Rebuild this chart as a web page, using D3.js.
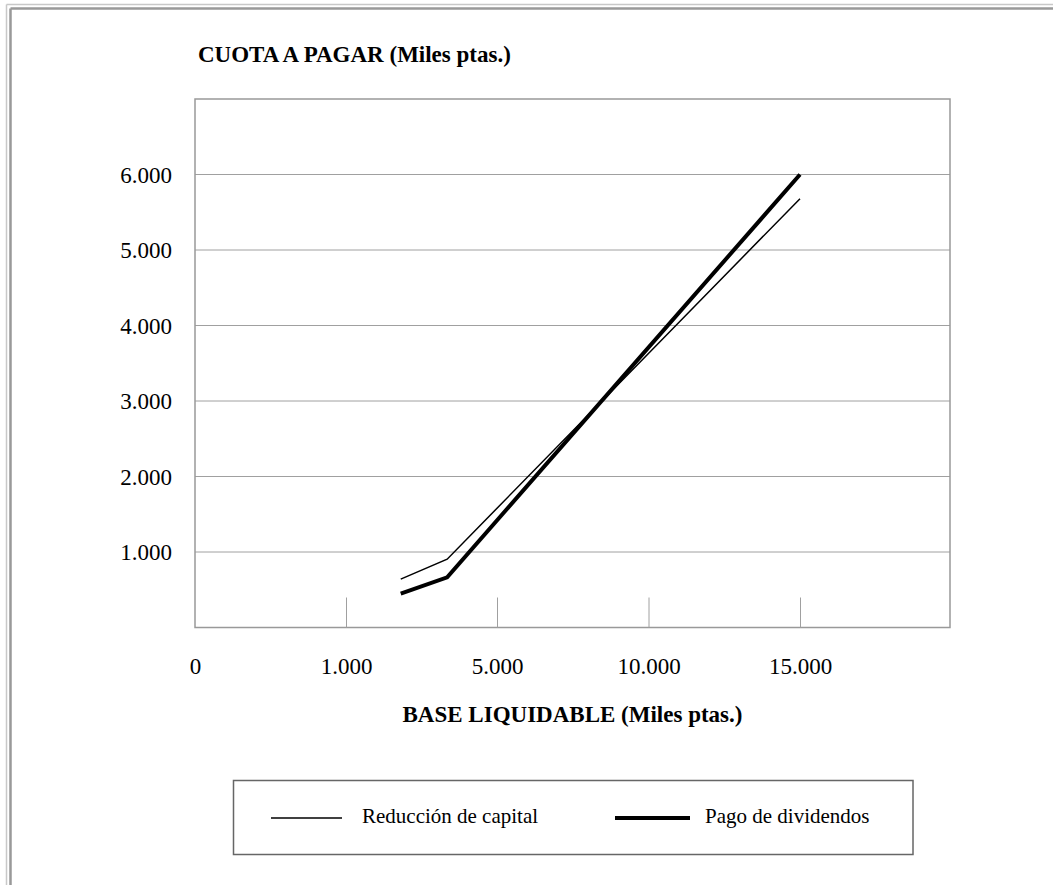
<!DOCTYPE html>
<html><head><meta charset="utf-8">
<script src="https://cdn.jsdelivr.net/npm/d3@7/dist/d3.min.js"></script>
<style>body{margin:0;background:#fff;}svg{display:block;}</style>
</head><body>
<svg id="c" width="1053" height="885"></svg>
<script>
// Data
const xTickValues = [0, 1000, 5000, 10000, 15000];
const xTickLabels = ["0", "1.000", "5.000", "10.000", "15.000"];
const yTickValues = [1000, 2000, 3000, 4000, 5000, 6000];
const baseLiquidable = [2450, 3680, 15000];
const reduccionCapital = [640, 905, 5680];
const pagoDividendos = [450, 665, 6000];
const seriesNames = ["Reducción de capital", "Pago de dividendos"];

const svg = d3.select("#c");
const font = "'Liberation Serif','Times New Roman',serif";

// outer frame
svg.append("line").attr("x1",6.5).attr("x2",1053).attr("y1",4.5).attr("y2",4.5).attr("stroke","#c8c8c8").attr("stroke-width",1.5);
svg.append("line").attr("x1",6.5).attr("x2",6.5).attr("y1",4.5).attr("y2",885).attr("stroke","#c8c8c8").attr("stroke-width",1.5);
svg.append("line").attr("x1",10.5).attr("x2",1053).attr("y1",8.5).attr("y2",8.5).attr("stroke","#999").attr("stroke-width",2.5);
svg.append("line").attr("x1",10.5).attr("x2",10.5).attr("y1",8.5).attr("y2",885).attr("stroke","#999").attr("stroke-width",2.5);

const L = 195, R = 950, T = 99, B = 627.5;
const x = d3.scaleLinear()
  .domain([0, 1000, 5000, 10000, 15000, 20000])
  .range([195, 346, 497, 648.5, 800, 950]);
const y = d3.scaleLinear().domain([0, 7000]).range([B, T]);
const loc = d3.formatLocale({decimal:",", thousands:".", grouping:[3], currency:["",""]});
const fmt = loc.format(",d");

// gridlines
svg.append("g").selectAll("line").data(yTickValues).join("line")
  .attr("x1", L).attr("x2", R).attr("y1", d => y(d)).attr("y2", d => y(d))
  .attr("stroke", "#a0a0a0").attr("stroke-width", 1);

// plot frame
svg.append("rect").attr("x", L).attr("y", T).attr("width", R-L).attr("height", B-T)
  .attr("fill", "none").attr("stroke", "#999").attr("stroke-width", 1.5);

// y axis labels
const yAxis = d3.axisLeft(y).tickValues(yTickValues).tickFormat(fmt).tickSize(0).tickPadding(23);
const gy = svg.append("g").attr("transform", `translate(${L},0)`).call(yAxis);
gy.select(".domain").remove();
gy.selectAll("text").attr("font-family", font).attr("font-size", 23).attr("fill", "#000").attr("dy", "0.34em");

// x axis ticks inside plot
const xAxisTicks = d3.axisTop(x).tickValues(xTickValues.filter(d => d > 0)).tickSize(30).tickFormat("");
const gxt = svg.append("g").attr("transform", `translate(0,${B})`).call(xAxisTicks);
gxt.select(".domain").remove();
gxt.selectAll("line").attr("stroke", "#a0a0a0").attr("stroke-width", 1);

// x axis labels
const xAxis = d3.axisBottom(x).tickValues(xTickValues).tickFormat((d, i) => xTickLabels[i]).tickSize(0).tickPadding(30);
const gx = svg.append("g").attr("transform", `translate(0,${B})`).call(xAxis);
gx.select(".domain").remove();
gx.selectAll("text").attr("font-family", font).attr("font-size", 23).attr("fill", "#000");

// series
const line = d3.line().x(d => x(d[0])).y(d => y(d[1]));
svg.append("path").datum(baseLiquidable.map((b, i) => [b, reduccionCapital[i]]))
  .attr("d", line).attr("fill", "none").attr("stroke", "#000").attr("stroke-width", 1.5);
svg.append("path").datum(baseLiquidable.map((b, i) => [b, pagoDividendos[i]]))
  .attr("d", line).attr("fill", "none").attr("stroke", "#000").attr("stroke-width", 4);

// titles
svg.append("text").attr("x", 198).attr("y", 62).attr("font-family", font).attr("font-size", 23)
  .attr("font-weight", "bold").text("CUOTA A PAGAR (Miles ptas.)");
svg.append("text").attr("x", (L+R)/2).attr("y", 722).attr("text-anchor", "middle").attr("font-family", font)
  .attr("font-size", 23).attr("font-weight", "bold").text("BASE LIQUIDABLE (Miles ptas.)");

// legend
svg.append("rect").attr("x", 233.5).attr("y", 780.5).attr("width", 679.5).attr("height", 74)
  .attr("fill", "none").attr("stroke", "#666").attr("stroke-width", 1.5);
const legendItems = [
  {name: seriesNames[0], x1: 271, x2: 342, tx: 362, w: 1.5},
  {name: seriesNames[1], x1: 615, x2: 690, tx: 705, w: 4}
];
const lg = svg.append("g").selectAll("g").data(legendItems).join("g");
lg.append("line").attr("x1", d => d.x1).attr("x2", d => d.x2).attr("y1", 818).attr("y2", 818)
  .attr("stroke", "#000").attr("stroke-width", d => d.w);
lg.append("text").attr("x", d => d.tx).attr("y", 823).attr("font-family", font).attr("font-size", 21)
  .text(d => d.name);
</script>
</body></html>
